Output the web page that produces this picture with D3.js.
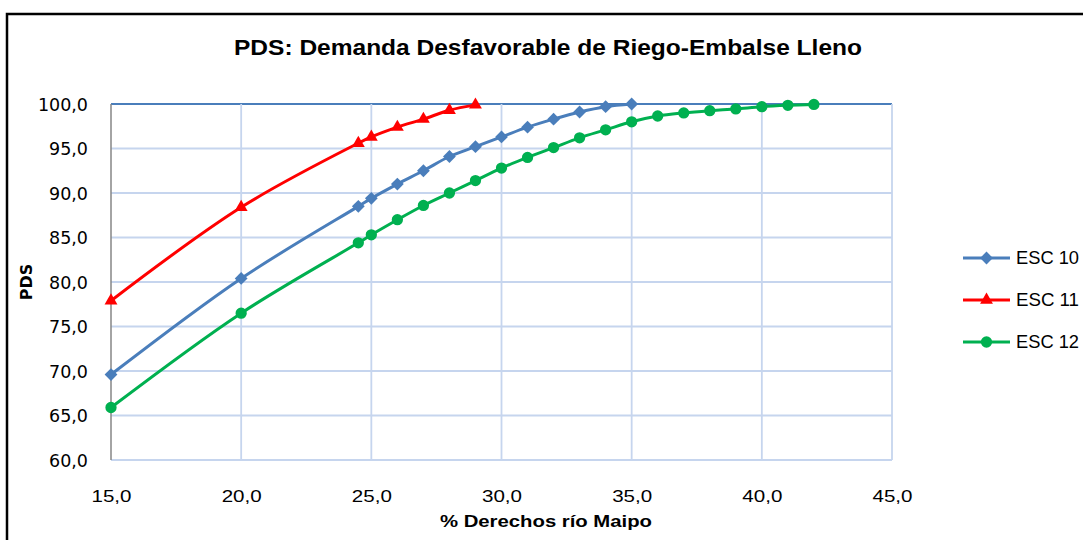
<!DOCTYPE html>
<html>
<head>
<meta charset="utf-8">
<script src="https://cdn.jsdelivr.net/npm/d3@7/dist/d3.min.js"></script>
<style>
  html, body { margin: 0; padding: 0; background: #ffffff; }
  svg { display: block; }
</style>
</head>
<body>
<svg id="chart" width="1083" height="540"></svg>
<script>
// Curve data: PDS (%) against share of Maipo river rights (%)
const esc10X = [15, 20, 24.5, 25, 26, 27, 28, 29, 30, 31, 32, 33, 34, 35];
const esc10Y = [69.6, 80.4, 88.5, 89.4, 91.0, 92.5, 94.1, 95.2, 96.3, 97.4, 98.3, 99.1, 99.7, 100.0];

const esc11X = [15, 20, 24.5, 25, 26, 27, 28, 29];
const esc11Y = [77.9, 88.4, 95.6, 96.3, 97.4, 98.3, 99.3, 99.9];

const esc12X = [15, 20, 24.5, 25, 26, 27, 28, 29, 30, 31, 32, 33, 34, 35, 36, 37, 38, 39, 40, 41, 42];
const esc12Y = [65.9, 76.5, 84.4, 85.3, 87.0, 88.6, 90.0, 91.4, 92.8, 94.0, 95.1, 96.2, 97.1, 98.0, 98.65, 99.0, 99.25, 99.45, 99.7, 99.85, 99.95];

const seriesNames = ["ESC 10", "ESC 11", "ESC 12"];
const xTicks = [15, 20, 25, 30, 35, 40, 45];
const yTicks = [60, 65, 70, 75, 80, 85, 90, 95, 100];

const titleText = "PDS: Demanda Desfavorable de Riego-Embalse Lleno";
const xTitle = "% Derechos río Maipo";
const yTitle = "PDS";

const svg = d3.select("#chart");
const fmt = v => d3.format(".1f")(v).replace(".", ",");

const plot = { left: 111, right: 892, top: 104, bottom: 460 };
const x = d3.scaleLinear().domain([15, 45]).range([plot.left, plot.right]);
const y = d3.scaleLinear().domain([60, 100]).range([plot.bottom, plot.top]);

// outer frame
svg.append("rect")
  .attr("x", 7).attr("y", 14)
  .attr("width", 1100).attr("height", 560)
  .attr("fill", "#fff").attr("stroke", "#000").attr("stroke-width", 2.5);

// title
svg.append("text")
  .attr("x", 548).attr("y", 55)
  .attr("text-anchor", "middle")
  .attr("font-family", "'Liberation Sans', Arial, sans-serif")
  .attr("font-weight", "bold")
  .attr("font-size", 22)
  .attr("textLength", 628).attr("lengthAdjust", "spacingAndGlyphs")
  .attr("fill", "#000")
  .text(titleText);

// gridlines
const grid = svg.append("g");
grid.selectAll("line.h").data(yTicks).join("line")
  .attr("x1", plot.left).attr("x2", plot.right)
  .attr("y1", d => y(d)).attr("y2", d => y(d))
  .attr("stroke", d => d === 100 ? "#4a7ebb" : "#c6d5ee")
  .attr("stroke-width", 1.8);
grid.selectAll("line.v").data(xTicks.slice(1)).join("line")
  .attr("x1", d => x(d)).attr("x2", d => x(d))
  .attr("y1", plot.top).attr("y2", plot.bottom)
  .attr("stroke", "#c6d5ee").attr("stroke-width", 1.8);

// y axis line
svg.append("line")
  .attr("x1", plot.left).attr("x2", plot.left)
  .attr("y1", plot.top).attr("y2", plot.bottom)
  .attr("stroke", "#868686").attr("stroke-width", 1.5);

// y tick labels
const yAxis = d3.axisLeft(y).tickValues(yTicks).tickFormat(fmt).tickSize(0).tickPadding(23);
const gy = svg.append("g").attr("transform", `translate(${plot.left},0)`).call(yAxis);
gy.select(".domain").remove();
gy.selectAll("text")
  .attr("font-family", "'DejaVu Sans', Verdana, sans-serif")
  .attr("font-size", 17.5)
  .attr("fill", "#000")
  .attr("dy", "0.35em");

// x tick labels
const xAxis = d3.axisBottom(x).tickValues(xTicks).tickFormat(fmt).tickSize(0).tickPadding(30);
const gx = svg.append("g").attr("transform", `translate(0,${plot.bottom})`).call(xAxis);
gx.select(".domain").remove();
gx.selectAll("text")
  .attr("font-family", "'Liberation Sans', Arial, sans-serif")
  .attr("font-size", 17)
  .attr("fill", "#000")
  .attr("textLength", 40).attr("lengthAdjust", "spacingAndGlyphs");

// axis titles
svg.append("text")
  .attr("x", 546).attr("y", 527)
  .attr("text-anchor", "middle")
  .attr("font-family", "'Liberation Sans', Arial, sans-serif")
  .attr("font-weight", "bold")
  .attr("font-size", 16)
  .attr("textLength", 212).attr("lengthAdjust", "spacingAndGlyphs")
  .text(xTitle);

svg.append("text")
  .attr("transform", "translate(32,282) rotate(-90)")
  .attr("text-anchor", "middle")
  .attr("font-family", "'DejaVu Sans', Verdana, sans-serif")
  .attr("font-weight", "bold")
  .attr("font-size", 16)
  .text(yTitle);

// series; diamonds are squares turned 45 degrees
const series = [
  { name: seriesNames[0], xs: esc10X, ys: esc10Y, color: "#4a7ebb", shape: d3.symbolSquare, size: 82, rot: 45 },
  { name: seriesNames[1], xs: esc11X, ys: esc11Y, color: "#ff0000", shape: d3.symbolTriangle, size: 72, rot: 0 },
  { name: seriesNames[2], xs: esc12X, ys: esc12Y, color: "#00b050", shape: d3.symbolCircle, size: 100, rot: 0 }
];

const line = d3.line()
  .x(d => x(d[0])).y(d => y(d[1]))
  .curve(d3.curveCatmullRom.alpha(0.5));

series.forEach(s => {
  const pts = s.xs.map((v, i) => [v, s.ys[i]]);
  const g = svg.append("g");
  g.append("path")
    .datum(pts)
    .attr("d", line)
    .attr("fill", "none")
    .attr("stroke", s.color)
    .attr("stroke-width", 3);
  g.selectAll("path.m").data(pts).join("path")
    .attr("class", "m")
    .attr("transform", d => `translate(${x(d[0])},${y(d[1])}) rotate(${s.rot})`)
    .attr("d", d3.symbol().type(s.shape).size(s.size))
    .attr("fill", s.color);
});

// legend
const legend = svg.append("g");
series.forEach((s, i) => {
  const ly = 258 + i * 42;
  legend.append("line")
    .attr("x1", 963).attr("x2", 1010)
    .attr("y1", ly).attr("y2", ly)
    .attr("stroke", s.color).attr("stroke-width", 3);
  legend.append("path")
    .attr("transform", `translate(986.5,${ly}) rotate(${s.rot})`)
    .attr("d", d3.symbol().type(s.shape).size(s.size))
    .attr("fill", s.color);
  legend.append("text")
    .attr("x", 1016).attr("y", ly)
    .attr("dy", "0.35em")
    .attr("font-family", "'Liberation Sans', Arial, sans-serif")
    .attr("font-size", 18)
    .attr("textLength", 63).attr("lengthAdjust", "spacingAndGlyphs")
    .attr("fill", "#000")
    .text(s.name);
});
</script>
</body>
</html>
